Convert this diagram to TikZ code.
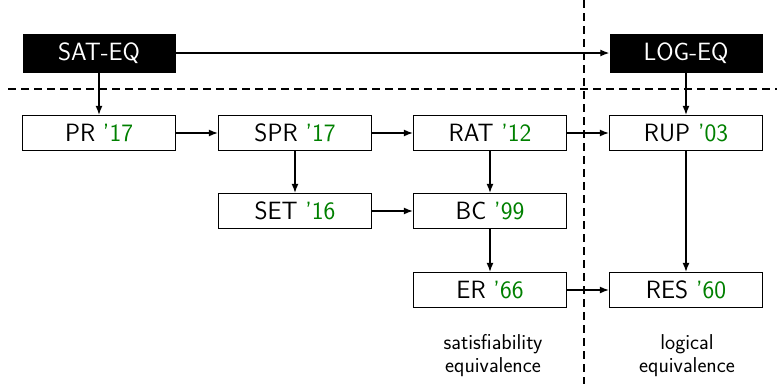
\documentclass[tikz,border=0pt]{standalone}
\usetikzlibrary{arrows.meta}
\definecolor{yr}{RGB}{0,128,0}
\begin{document}
\begin{tikzpicture}[x=1pt,y=-1pt,
  font=\sffamily\fontsize{25}{30}\selectfont,
  box/.style={draw,line width=1.3pt,minimum width=153pt,minimum height=35pt,inner sep=0pt},
  hdr/.style={fill=black,text=white,minimum width=153pt,minimum height=39pt,inner sep=0pt},
  conn/.style={line width=1.3pt,-{Latex[length=9pt,width=7pt]}},
  sep/.style={line width=1.3pt,dash pattern=on 8pt off 5pt},
  lbl/.style={font=\sffamily\fontsize{21.5}{23}\selectfont,align=center,inner sep=0pt}]
\useasboundingbox (0,0) rectangle (777,384);
\draw[sep] (8,89) -- (777,89);
\draw[sep] (584,0) -- (584,384);
\node[hdr] (sat) at (99,53) {SAT-EQ};
\node[hdr] (log) at (686,53) {LOG-EQ};
\node[box] (pr) at (99,133) {PR \textcolor{yr}{'17}};
\node[box] (spr) at (295,133) {SPR \textcolor{yr}{'17}};
\node[box] (rat) at (490,133) {RAT \textcolor{yr}{'12}};
\node[box] (rup) at (686,133) {RUP \textcolor{yr}{'03}};
\node[box] (set) at (295,211) {SET \textcolor{yr}{'16}};
\node[box] (bc) at (490,211) {BC \textcolor{yr}{'99}};
\node[box] (er) at (490,290) {ER \textcolor{yr}{'66}};
\node[box] (res) at (686,290) {RES \textcolor{yr}{'60}};
\node[lbl] (l1) at (493,356) {satisfiability\\equivalence};
\node[lbl] (l2) at (687,356) {logical\\equivalence};
\draw[conn] (sat) -- (log);
\draw[conn] (sat) -- (pr);
\draw[conn] (log) -- (rup);
\draw[conn] (pr) -- (spr);
\draw[conn] (spr) -- (rat);
\draw[conn] (rat) -- (rup);
\draw[conn] (spr) -- (set);
\draw[conn] (rat) -- (bc);
\draw[conn] (set) -- (bc);
\draw[conn] (bc) -- (er);
\draw[conn] (rup) -- (res);
\draw[conn] (er) -- (res);
\end{tikzpicture}
\end{document}
